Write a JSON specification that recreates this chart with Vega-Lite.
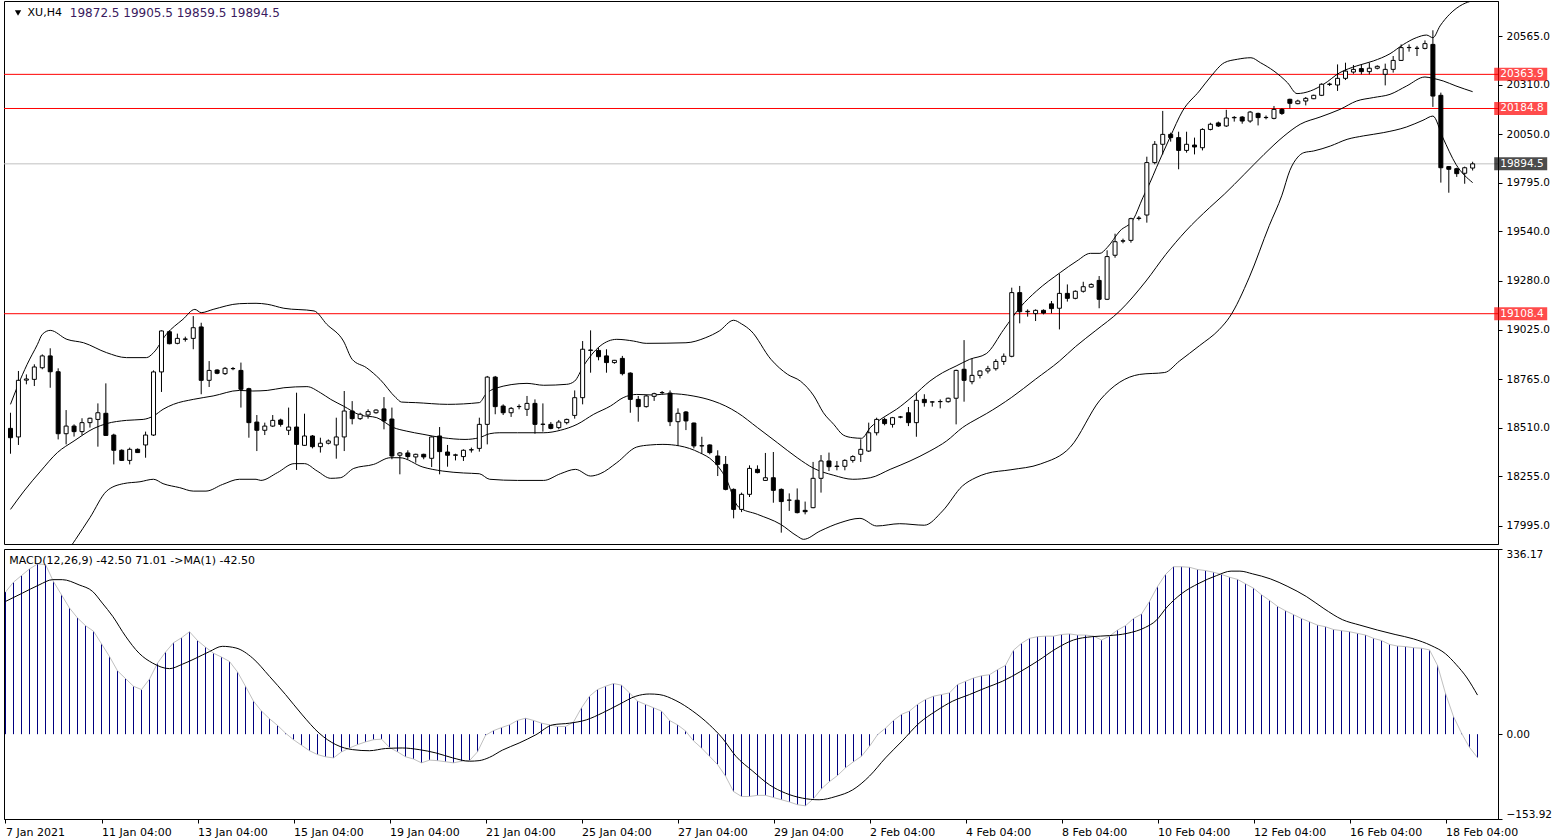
{
"$schema": "https://vega.github.io/schema/vega-lite/v6.json",
"background": "white",
"padding": {"left": 2, "top": 0, "right": 0, "bottom": 0},
"spacing": 3,
"config": {
  "view": {"stroke": "#000000", "strokeWidth": 1},
  "font": "DejaVu Sans",
  "axis": {"labelFont": "DejaVu Sans", "labelColor": "#000000", "tickColor": "#000000", "domainColor": "#000000", "grid": false, "domainWidth": 1, "tickWidth": 1}
},
"datasets": {
  "levels": [
    {"p": 20363.9, "kind": "level"},
    {"p": 20184.8, "kind": "level"},
    {"p": 19108.4, "kind": "level"},
    {"p": 19894.5, "kind": "price"}
  ],
  "bars": [
{"i":0,"o":18507,"h":18589,"l":18374,"c":18458,"m":258},
{"i":1,"o":18462,"h":18808,"l":18420,"c":18759,"m":276},
{"i":2,"o":18760,"h":18790,"l":18738,"c":18766,"m":288},
{"i":3,"o":18764,"h":18843,"l":18729,"c":18829,"m":300},
{"i":4,"o":18825,"h":18895,"l":18817,"c":18887,"m":309},
{"i":5,"o":18887,"h":18927,"l":18720,"c":18804,"m":308},
{"i":6,"o":18804,"h":18822,"l":18449,"c":18479,"m":277},
{"i":7,"o":18479,"h":18603,"l":18423,"c":18519,"m":253},
{"i":8,"o":18519,"h":18528,"l":18464,"c":18490,"m":229},
{"i":9,"o":18490,"h":18560,"l":18472,"c":18537,"m":211},
{"i":10,"o":18537,"h":18563,"l":18511,"c":18560,"m":197},
{"i":11,"o":18554,"h":18638,"l":18411,"c":18589,"m":187},
{"i":12,"o":18586,"h":18743,"l":18467,"c":18470,"m":164},
{"i":13,"o":18472,"h":18479,"l":18318,"c":18392,"m":141},
{"i":14,"o":18392,"h":18397,"l":18336,"c":18339,"m":115},
{"i":15,"o":18339,"h":18406,"l":18318,"c":18397,"m":101},
{"i":16,"o":18397,"h":18402,"l":18380,"c":18380,"m":87},
{"i":17,"o":18420,"h":18490,"l":18353,"c":18472,"m":81},
{"i":18,"o":18472,"h":18811,"l":18467,"c":18803,"m":100},
{"i":19,"o":18803,"h":19021,"l":18698,"c":19018,"m":129},
{"i":20,"o":19014,"h":19021,"l":18948,"c":18951,"m":149},
{"i":21,"o":18953,"h":19004,"l":18948,"c":18979,"m":166},
{"i":22,"o":18974,"h":18988,"l":18962,"c":18976,"m":175},
{"i":23,"o":18979,"h":19096,"l":18922,"c":19035,"m":186},
{"i":24,"o":19039,"h":19061,"l":18686,"c":18759,"m":170},
{"i":25,"o":18759,"h":18860,"l":18724,"c":18811,"m":158},
{"i":26,"o":18813,"h":18817,"l":18791,"c":18796,"m":147},
{"i":27,"o":18794,"h":18829,"l":18787,"c":18822,"m":140},
{"i":28,"o":18820,"h":18829,"l":18812,"c":18821,"m":132},
{"i":29,"o":18811,"h":18852,"l":18616,"c":18712,"m":113},
{"i":30,"o":18715,"h":18720,"l":18458,"c":18537,"m":87},
{"i":31,"o":18540,"h":18577,"l":18388,"c":18497,"m":60},
{"i":32,"o":18497,"h":18537,"l":18472,"c":18519,"m":42},
{"i":33,"o":18519,"h":18577,"l":18514,"c":18549,"m":28},
{"i":34,"o":18551,"h":18558,"l":18516,"c":18528,"m":16},
{"i":35,"o":18497,"h":18616,"l":18472,"c":18514,"m":2},
{"i":36,"o":18514,"h":18694,"l":18289,"c":18423,"m":-10},
{"i":37,"o":18418,"h":18584,"l":18415,"c":18467,"m":-20},
{"i":38,"o":18467,"h":18472,"l":18402,"c":18411,"m":-30},
{"i":39,"o":18411,"h":18458,"l":18380,"c":18429,"m":-37},
{"i":40,"o":18429,"h":18449,"l":18423,"c":18441,"m":-41},
{"i":41,"o":18420,"h":18563,"l":18348,"c":18462,"m":-43},
{"i":42,"o":18462,"h":18703,"l":18388,"c":18598,"m":-32},
{"i":43,"o":18598,"h":18650,"l":18528,"c":18558,"m":-25},
{"i":44,"o":18558,"h":18589,"l":18551,"c":18581,"m":-19},
{"i":45,"o":18577,"h":18607,"l":18558,"c":18595,"m":-14},
{"i":46,"o":18589,"h":18607,"l":18584,"c":18603,"m":-10},
{"i":47,"o":18609,"h":18671,"l":18502,"c":18546,"m":-9},
{"i":48,"o":18556,"h":18616,"l":18345,"c":18362,"m":-24},
{"i":49,"o":18366,"h":18383,"l":18266,"c":18378,"m":-32},
{"i":50,"o":18378,"h":18392,"l":18345,"c":18359,"m":-41},
{"i":51,"o":18357,"h":18374,"l":18327,"c":18371,"m":-45},
{"i":52,"o":18371,"h":18374,"l":18345,"c":18357,"m":-52},
{"i":53,"o":18350,"h":18465,"l":18304,"c":18462,"m":-47},
{"i":54,"o":18467,"h":18514,"l":18266,"c":18385,"m":-48},
{"i":55,"o":18383,"h":18420,"l":18306,"c":18366,"m":-50},
{"i":56,"o":18366,"h":18374,"l":18339,"c":18368,"m":-52},
{"i":57,"o":18359,"h":18397,"l":18336,"c":18392,"m":-49},
{"i":58,"o":18394,"h":18406,"l":18380,"c":18395,"m":-48},
{"i":59,"o":18402,"h":18563,"l":18385,"c":18528,"m":-32},
{"i":60,"o":18528,"h":18782,"l":18423,"c":18776,"m":-2},
{"i":61,"o":18776,"h":18782,"l":18581,"c":18621,"m":6.5},
{"i":62,"o":18624,"h":18633,"l":18577,"c":18589,"m":12},
{"i":63,"o":18589,"h":18619,"l":18567,"c":18612,"m":17},
{"i":64,"o":18621,"h":18633,"l":18607,"c":18622,"m":25},
{"i":65,"o":18607,"h":18677,"l":18572,"c":18638,"m":29},
{"i":66,"o":18638,"h":18659,"l":18479,"c":18528,"m":25},
{"i":67,"o":18528,"h":18638,"l":18490,"c":18529,"m":20},
{"i":68,"o":18528,"h":18540,"l":18502,"c":18507,"m":17},
{"i":69,"o":18511,"h":18551,"l":18502,"c":18540,"m":14},
{"i":70,"o":18537,"h":18558,"l":18528,"c":18554,"m":14},
{"i":71,"o":18575,"h":18706,"l":18558,"c":18668,"m":22},
{"i":72,"o":18668,"h":18965,"l":18633,"c":18922,"m":48},
{"i":73,"o":18916,"h":19021,"l":18799,"c":18918,"m":69},
{"i":74,"o":18916,"h":18930,"l":18864,"c":18883,"m":81},
{"i":75,"o":18887,"h":18922,"l":18799,"c":18852,"m":87},
{"i":76,"o":18852,"h":18866,"l":18846,"c":18864,"m":92},
{"i":77,"o":18874,"h":18887,"l":18785,"c":18794,"m":89},
{"i":78,"o":18797,"h":18801,"l":18589,"c":18659,"m":75},
{"i":79,"o":18659,"h":18677,"l":18542,"c":18621,"m":60},
{"i":80,"o":18621,"h":18682,"l":18616,"c":18677,"m":54},
{"i":81,"o":18675,"h":18694,"l":18651,"c":18689,"m":48},
{"i":82,"o":18694,"h":18703,"l":18685,"c":18695,"m":42},
{"i":83,"o":18692,"h":18706,"l":18519,"c":18542,"m":25},
{"i":84,"o":18542,"h":18612,"l":18415,"c":18586,"m":17},
{"i":85,"o":18593,"h":18598,"l":18498,"c":18546,"m":6},
{"i":86,"o":18535,"h":18537,"l":18402,"c":18415,"m":-12},
{"i":87,"o":18415,"h":18463,"l":18374,"c":18416,"m":-25},
{"i":88,"o":18420,"h":18423,"l":18371,"c":18380,"m":-40},
{"i":89,"o":18362,"h":18392,"l":18257,"c":18318,"m":-55},
{"i":90,"o":18318,"h":18362,"l":18182,"c":18187,"m":-76},
{"i":91,"o":18187,"h":18192,"l":18035,"c":18082,"m":-104},
{"i":92,"o":18082,"h":18170,"l":18068,"c":18161,"m":-113},
{"i":93,"o":18161,"h":18313,"l":18147,"c":18297,"m":-113},
{"i":94,"o":18292,"h":18313,"l":18271,"c":18275,"m":-111},
{"i":95,"o":18234,"h":18378,"l":18231,"c":18248,"m":-111},
{"i":96,"o":18248,"h":18383,"l":18117,"c":18182,"m":-115},
{"i":97,"o":18187,"h":18192,"l":17960,"c":18123,"m":-119},
{"i":98,"o":18130,"h":18166,"l":18074,"c":18131,"m":-123},
{"i":99,"o":18130,"h":18192,"l":18061,"c":18065,"m":-128},
{"i":100,"o":18077,"h":18123,"l":18056,"c":18070,"m":-130},
{"i":101,"o":18091,"h":18331,"l":18088,"c":18245,"m":-117},
{"i":102,"o":18245,"h":18367,"l":18170,"c":18336,"m":-99},
{"i":103,"o":18336,"h":18380,"l":18283,"c":18306,"m":-86},
{"i":104,"o":18307,"h":18336,"l":18287,"c":18309,"m":-75},
{"i":105,"o":18308,"h":18345,"l":18287,"c":18339,"m":-61},
{"i":106,"o":18339,"h":18366,"l":18327,"c":18359,"m":-50},
{"i":107,"o":18371,"h":18450,"l":18331,"c":18397,"m":-40},
{"i":108,"o":18388,"h":18537,"l":18383,"c":18484,"m":-22},
{"i":109,"o":18484,"h":18563,"l":18470,"c":18554,"m":-1},
{"i":110,"o":18554,"h":18563,"l":18523,"c":18532,"m":11},
{"i":111,"o":18528,"h":18567,"l":18511,"c":18563,"m":25},
{"i":112,"o":18566,"h":18572,"l":18560,"c":18567,"m":36},
{"i":113,"o":18589,"h":18619,"l":18519,"c":18537,"m":42},
{"i":114,"o":18537,"h":18694,"l":18463,"c":18654,"m":54},
{"i":115,"o":18659,"h":18686,"l":18621,"c":18642,"m":63},
{"i":116,"o":18645,"h":18650,"l":18621,"c":18646,"m":69},
{"i":117,"o":18647,"h":18659,"l":18612,"c":18648,"m":72},
{"i":118,"o":18647,"h":18668,"l":18642,"c":18665,"m":75},
{"i":119,"o":18665,"h":18815,"l":18528,"c":18811,"m":90},
{"i":120,"o":18817,"h":18970,"l":18647,"c":18759,"m":96},
{"i":121,"o":18752,"h":18874,"l":18738,"c":18785,"m":102},
{"i":122,"o":18785,"h":18811,"l":18769,"c":18808,"m":106},
{"i":123,"o":18808,"h":18835,"l":18795,"c":18820,"m":108},
{"i":124,"o":18820,"h":18870,"l":18810,"c":18858,"m":117},
{"i":125,"o":18858,"h":18900,"l":18840,"c":18885,"m":125},
{"i":126,"o":18885,"h":19245,"l":18880,"c":19219,"m":152.5},
{"i":127,"o":19219,"h":19254,"l":19058,"c":19119,"m":165},
{"i":128,"o":19119,"h":19131,"l":19093,"c":19121,"m":174},
{"i":129,"o":19109,"h":19131,"l":19070,"c":19126,"m":177},
{"i":130,"o":19126,"h":19131,"l":19105,"c":19112,"m":178},
{"i":131,"o":19160,"h":19175,"l":19110,"c":19135,"m":178},
{"i":132,"o":19137,"h":19318,"l":19026,"c":19215,"m":181},
{"i":133,"o":19215,"h":19262,"l":19172,"c":19189,"m":182},
{"i":134,"o":19189,"h":19231,"l":19184,"c":19226,"m":180},
{"i":135,"o":19226,"h":19276,"l":19219,"c":19250,"m":180},
{"i":136,"o":19248,"h":19268,"l":19245,"c":19262,"m":178},
{"i":137,"o":19283,"h":19306,"l":19137,"c":19184,"m":171},
{"i":138,"o":19184,"h":19441,"l":19180,"c":19408,"m":178},
{"i":139,"o":19415,"h":19528,"l":19402,"c":19486,"m":189},
{"i":140,"o":19489,"h":19502,"l":19478,"c":19491,"m":197},
{"i":141,"o":19493,"h":19612,"l":19481,"c":19607,"m":210},
{"i":142,"o":19608,"h":19621,"l":19598,"c":19610,"m":218},
{"i":143,"o":19626,"h":19932,"l":19586,"c":19901,"m":241},
{"i":144,"o":19901,"h":20014,"l":19892,"c":19997,"m":268},
{"i":145,"o":19997,"h":20172,"l":19944,"c":20049,"m":290},
{"i":146,"o":20049,"h":20058,"l":20011,"c":20032,"m":304},
{"i":147,"o":20032,"h":20063,"l":19866,"c":19965,"m":304},
{"i":148,"o":19965,"h":20063,"l":19953,"c":19997,"m":303},
{"i":149,"o":19993,"h":20032,"l":19944,"c":19983,"m":299},
{"i":150,"o":19979,"h":20081,"l":19965,"c":20075,"m":297},
{"i":151,"o":20075,"h":20110,"l":20070,"c":20102,"m":294},
{"i":152,"o":20109,"h":20116,"l":20088,"c":20093,"m":290},
{"i":153,"o":20093,"h":20178,"l":20088,"c":20135,"m":285},
{"i":154,"o":20136,"h":20145,"l":20116,"c":20138,"m":281},
{"i":155,"o":20140,"h":20145,"l":20105,"c":20119,"m":273},
{"i":156,"o":20119,"h":20172,"l":20110,"c":20166,"m":265},
{"i":157,"o":20159,"h":20163,"l":20096,"c":20137,"m":253},
{"i":158,"o":20137,"h":20148,"l":20128,"c":20138,"m":243},
{"i":159,"o":20133,"h":20198,"l":20128,"c":20180,"m":232},
{"i":160,"o":20180,"h":20186,"l":20151,"c":20159,"m":224},
{"i":161,"o":20233,"h":20236,"l":20186,"c":20212,"m":217},
{"i":162,"o":20210,"h":20231,"l":20207,"c":20224,"m":210},
{"i":163,"o":20224,"h":20245,"l":20201,"c":20238,"m":204},
{"i":164,"o":20236,"h":20257,"l":20234,"c":20254,"m":198},
{"i":165,"o":20254,"h":20317,"l":20250,"c":20312,"m":195},
{"i":166,"o":20311,"h":20320,"l":20303,"c":20313,"m":190},
{"i":167,"o":20308,"h":20416,"l":20277,"c":20343,"m":188},
{"i":168,"o":20343,"h":20425,"l":20334,"c":20381,"m":186},
{"i":169,"o":20376,"h":20413,"l":20367,"c":20390,"m":183},
{"i":170,"o":20394,"h":20416,"l":20364,"c":20378,"m":180},
{"i":171,"o":20378,"h":20425,"l":20364,"c":20396,"m":174},
{"i":172,"o":20396,"h":20411,"l":20390,"c":20406,"m":170},
{"i":173,"o":20364,"h":20420,"l":20306,"c":20390,"m":163},
{"i":174,"o":20390,"h":20460,"l":20373,"c":20437,"m":160},
{"i":175,"o":20437,"h":20521,"l":20434,"c":20504,"m":159},
{"i":176,"o":20504,"h":20521,"l":20483,"c":20505,"m":157},
{"i":177,"o":20500,"h":20513,"l":20460,"c":20501,"m":156},
{"i":178,"o":20500,"h":20542,"l":20495,"c":20525,"m":153},
{"i":179,"o":20521,"h":20595,"l":20193,"c":20250,"m":125},
{"i":180,"o":20254,"h":20268,"l":19796,"c":19874,"m":74},
{"i":181,"o":19880,"h":19883,"l":19743,"c":19866,"m":32},
{"i":182,"o":19869,"h":19874,"l":19826,"c":19843,"m":2},
{"i":183,"o":19845,"h":19880,"l":19790,"c":19874,"m":-24},
{"i":184,"o":19872.5,"h":19905.5,"l":19859.5,"c":19894.5,"m":-42.5}
  ],
  "bands": [
{"b":"u","i":0,"v":18633},{"b":"u","i":0.9,"v":18729},{"b":"u","i":2.1,"v":18843},{"b":"u","i":3.4,"v":18948},{"b":"u","i":4,"v":19000},{"b":"u","i":5,"v":19021},{"b":"u","i":7.1,"v":18974},{"b":"u","i":9.2,"v":18956},{"b":"u","i":12.1,"v":18904},{"b":"u","i":14.6,"v":18878},{"b":"u","i":17.1,"v":18878},{"b":"u","i":18,"v":18904},{"b":"u","i":19.6,"v":19000},{"b":"u","i":21.7,"v":19079},{"b":"u","i":23.2,"v":19131},{"b":"u","i":24,"v":19114},{"b":"u","i":25.5,"v":19131},{"b":"u","i":28.8,"v":19161},{"b":"u","i":30.9,"v":19163},{"b":"u","i":32.3,"v":19158},{"b":"u","i":34.4,"v":19137},{"b":"u","i":38.2,"v":19123},{"b":"u","i":39.8,"v":19053},{"b":"u","i":41.9,"v":18965},{"b":"u","i":43,"v":18869},{"b":"u","i":44.8,"v":18825},{"b":"u","i":46.5,"v":18764},{"b":"u","i":48.5,"v":18668},{"b":"u","i":49.2,"v":18645},{"b":"u","i":51,"v":18642},{"b":"u","i":55,"v":18633},{"b":"u","i":59,"v":18642},{"b":"u","i":59.8,"v":18685},{"b":"u","i":61,"v":18717},{"b":"u","i":65,"v":18743},{"b":"u","i":67.1,"v":18733},{"b":"u","i":70,"v":18738},{"b":"u","i":71,"v":18755},{"b":"u","i":72.1,"v":18834},{"b":"u","i":74.2,"v":18939},{"b":"u","i":76.3,"v":18974},{"b":"u","i":78.4,"v":18965},{"b":"u","i":80,"v":18953},{"b":"u","i":85,"v":18956},{"b":"u","i":87.5,"v":18983},{"b":"u","i":89.2,"v":19018},{"b":"u","i":91,"v":19074},{"b":"u","i":92,"v":19055},{"b":"u","i":93.2,"v":19018},{"b":"u","i":95.7,"v":18869},{"b":"u","i":97.8,"v":18790},{"b":"u","i":99.4,"v":18755},{"b":"u","i":101.1,"v":18677},{"b":"u","i":102.3,"v":18589},{"b":"u","i":103.6,"v":18528},{"b":"u","i":104.8,"v":18472},{"b":"u","i":106,"v":18458},{"b":"u","i":107.1,"v":18455},{"b":"u","i":108.2,"v":18511},{"b":"u","i":109.8,"v":18563},{"b":"u","i":111.5,"v":18607},{"b":"u","i":113.6,"v":18677},{"b":"u","i":115.7,"v":18755},{"b":"u","i":117.3,"v":18799},{"b":"u","i":119,"v":18834},{"b":"u","i":120.7,"v":18869},{"b":"u","i":122.8,"v":18899},{"b":"u","i":125,"v":19026},{"b":"u","i":127.1,"v":19144},{"b":"u","i":129.1,"v":19227},{"b":"u","i":132.1,"v":19324},{"b":"u","i":134.2,"v":19385},{"b":"u","i":135.9,"v":19425},{"b":"u","i":137.1,"v":19425},{"b":"u","i":138,"v":19455},{"b":"u","i":139.6,"v":19542},{"b":"u","i":141.3,"v":19603},{"b":"u","i":142.5,"v":19717},{"b":"u","i":143.4,"v":19796},{"b":"u","i":144.2,"v":19874},{"b":"u","i":145.9,"v":20032},{"b":"u","i":147.5,"v":20172},{"b":"u","i":149.6,"v":20276},{"b":"u","i":151,"v":20350},{"b":"u","i":152.75,"v":20425},{"b":"u","i":154.4,"v":20443},{"b":"u","i":156.1,"v":20451},{"b":"u","i":157.3,"v":20425},{"b":"u","i":159,"v":20381},{"b":"u","i":160.7,"v":20320},{"b":"u","i":161.9,"v":20263},{"b":"u","i":163.6,"v":20277},{"b":"u","i":165.25,"v":20312},{"b":"u","i":167.3,"v":20373},{"b":"u","i":169.4,"v":20408},{"b":"u","i":171.5,"v":20434},{"b":"u","i":173.6,"v":20472},{"b":"u","i":175.3,"v":20521},{"b":"u","i":176.9,"v":20556},{"b":"u","i":178.2,"v":20570},{"b":"u","i":179,"v":20556},{"b":"u","i":179.9,"v":20618},{"b":"u","i":181.1,"v":20679},{"b":"u","i":182.75,"v":20731},{"b":"u","i":184,"v":20750},
{"b":"m","i":0,"v":18082},{"b":"m","i":1.7,"v":18178},{"b":"m","i":3.8,"v":18283},{"b":"m","i":5.9,"v":18380},{"b":"m","i":8,"v":18441},{"b":"m","i":10.5,"v":18507},{"b":"m","i":12.1,"v":18532},{"b":"m","i":14.6,"v":18549},{"b":"m","i":16.7,"v":18554},{"b":"m","i":18,"v":18572},{"b":"m","i":19.2,"v":18607},{"b":"m","i":20.5,"v":18633},{"b":"m","i":23,"v":18659},{"b":"m","i":25.5,"v":18677},{"b":"m","i":28.8,"v":18706},{"b":"m","i":30.5,"v":18703},{"b":"m","i":32.3,"v":18706},{"b":"m","i":34.4,"v":18720},{"b":"m","i":37.3,"v":18726},{"b":"m","i":39,"v":18694},{"b":"m","i":40.3,"v":18659},{"b":"m","i":41.9,"v":18624},{"b":"m","i":44,"v":18577},{"b":"m","i":46.1,"v":18563},{"b":"m","i":48.2,"v":18511},{"b":"m","i":49.8,"v":18493},{"b":"m","i":51.9,"v":18476},{"b":"m","i":54.4,"v":18458},{"b":"m","i":57.2,"v":18449},{"b":"m","i":59,"v":18458},{"b":"m","i":60.3,"v":18479},{"b":"m","i":61.5,"v":18484},{"b":"m","i":63.8,"v":18484},{"b":"m","i":67.1,"v":18484},{"b":"m","i":69.2,"v":18497},{"b":"m","i":71.3,"v":18528},{"b":"m","i":73.4,"v":18581},{"b":"m","i":75.5,"v":18624},{"b":"m","i":77.1,"v":18668},{"b":"m","i":78.8,"v":18685},{"b":"m","i":80.9,"v":18682},{"b":"m","i":83,"v":18689},{"b":"m","i":85.9,"v":18677},{"b":"m","i":88.4,"v":18651},{"b":"m","i":90,"v":18624},{"b":"m","i":91.5,"v":18589},{"b":"m","i":94,"v":18511},{"b":"m","i":96.5,"v":18432},{"b":"m","i":99,"v":18353},{"b":"m","i":101.1,"v":18297},{"b":"m","i":103.6,"v":18261},{"b":"m","i":106,"v":18240},{"b":"m","i":108.2,"v":18248},{"b":"m","i":110.7,"v":18292},{"b":"m","i":113.2,"v":18336},{"b":"m","i":115.7,"v":18388},{"b":"m","i":117.8,"v":18441},{"b":"m","i":119.8,"v":18511},{"b":"m","i":121.9,"v":18563},{"b":"m","i":122.8,"v":18584},{"b":"m","i":126,"v":18670},{"b":"m","i":129,"v":18765},{"b":"m","i":132,"v":18860},{"b":"m","i":134,"v":18935},{"b":"m","i":136.5,"v":19018},{"b":"m","i":139.6,"v":19123},{"b":"m","i":142.9,"v":19280},{"b":"m","i":145.4,"v":19420},{"b":"m","i":147.9,"v":19542},{"b":"m","i":150.9,"v":19665},{"b":"m","i":152.75,"v":19735},{"b":"m","i":155.25,"v":19839},{"b":"m","i":157.75,"v":19944},{"b":"m","i":160.25,"v":20040},{"b":"m","i":162.3,"v":20102},{"b":"m","i":164.8,"v":20140},{"b":"m","i":167.3,"v":20180},{"b":"m","i":169.4,"v":20224},{"b":"m","i":171.5,"v":20242},{"b":"m","i":173.6,"v":20259},{"b":"m","i":175.7,"v":20303},{"b":"m","i":178,"v":20350},{"b":"m","i":179,"v":20343},{"b":"m","i":180.3,"v":20329},{"b":"m","i":181.9,"v":20303},{"b":"m","i":184,"v":20273},
{"b":"l","i":0,"v":17531},{"b":"l","i":2,"v":17543},{"b":"l","i":4,"v":17586},{"b":"l","i":6,"v":17768},{"b":"l","i":7,"v":17849},{"b":"l","i":8.2,"v":17925},{"b":"l","i":10,"v":18039},{"b":"l","i":12.1,"v":18178},{"b":"l","i":14.2,"v":18217},{"b":"l","i":16.3,"v":18227},{"b":"l","i":18,"v":18240},{"b":"l","i":19.2,"v":18217},{"b":"l","i":21.3,"v":18196},{"b":"l","i":23,"v":18178},{"b":"l","i":24.6,"v":18178},{"b":"l","i":26.7,"v":18213},{"b":"l","i":28.8,"v":18240},{"b":"l","i":30.9,"v":18240},{"b":"l","i":31.5,"v":18234},{"b":"l","i":33.6,"v":18275},{"b":"l","i":35.7,"v":18322},{"b":"l","i":37,"v":18322},{"b":"l","i":38.6,"v":18283},{"b":"l","i":40.3,"v":18245},{"b":"l","i":41.5,"v":18248},{"b":"l","i":43.2,"v":18297},{"b":"l","i":45.7,"v":18318},{"b":"l","i":47.8,"v":18353},{"b":"l","i":49,"v":18353},{"b":"l","i":51.9,"v":18304},{"b":"l","i":54.4,"v":18283},{"b":"l","i":57,"v":18273},{"b":"l","i":59,"v":18269},{"b":"l","i":60.3,"v":18240},{"b":"l","i":63.8,"v":18234},{"b":"l","i":67.1,"v":18234},{"b":"l","i":69.2,"v":18269},{"b":"l","i":71.1,"v":18292},{"b":"l","i":73,"v":18257},{"b":"l","i":74.2,"v":18269},{"b":"l","i":76.3,"v":18327},{"b":"l","i":78.8,"v":18409},{"b":"l","i":80.5,"v":18420},{"b":"l","i":82.1,"v":18423},{"b":"l","i":84.2,"v":18415},{"b":"l","i":86.7,"v":18380},{"b":"l","i":88.4,"v":18336},{"b":"l","i":90,"v":18248},{"b":"l","i":91.6,"v":18095},{"b":"l","i":94,"v":18056},{"b":"l","i":96.9,"v":18004},{"b":"l","i":99,"v":17942},{"b":"l","i":99.8,"v":17925},{"b":"l","i":101.9,"v":17969},{"b":"l","i":104.4,"v":18012},{"b":"l","i":106.9,"v":18035},{"b":"l","i":109,"v":17995},{"b":"l","i":111.9,"v":18007},{"b":"l","i":115,"v":17999},{"b":"l","i":117.3,"v":18074},{"b":"l","i":119.8,"v":18205},{"b":"l","i":121.5,"v":18249},{"b":"l","i":122.8,"v":18270},{"b":"l","i":125.9,"v":18290},{"b":"l","i":129.6,"v":18320},{"b":"l","i":133.4,"v":18410},{"b":"l","i":137.1,"v":18655},{"b":"l","i":142.1,"v":18790},{"b":"l","i":145.25,"v":18800},{"b":"l","i":147.1,"v":18860},{"b":"l","i":149.6,"v":18940},{"b":"l","i":152.1,"v":19025},{"b":"l","i":153.4,"v":19090},{"b":"l","i":155.9,"v":19300},{"b":"l","i":158.4,"v":19570},{"b":"l","i":160,"v":19730},{"b":"l","i":161,"v":19860},{"b":"l","i":162,"v":19930},{"b":"l","i":162.75,"v":19953},{"b":"l","i":164,"v":19962},{"b":"l","i":166.1,"v":19988},{"b":"l","i":168.2,"v":20023},{"b":"l","i":170.25,"v":20041},{"b":"l","i":172.75,"v":20058},{"b":"l","i":175.7,"v":20088},{"b":"l","i":177.75,"v":20123},{"b":"l","i":179,"v":20145},{"b":"l","i":180.25,"v":20032},{"b":"l","i":181.9,"v":19892},{"b":"l","i":184,"v":19796}
  ],
  "sig": [
{"i":0,"s":241},{"i":2.1,"s":256},{"i":4.2,"s":271},{"i":5.9,"s":280.5},{"i":7.1,"s":280.5},{"i":9.2,"s":271},{"i":10.9,"s":259},{"i":12.1,"s":238},{"i":13.4,"s":214},{"i":15,"s":178},{"i":16.7,"s":147},{"i":18.4,"s":129},{"i":20.5,"s":119},{"i":22.1,"s":127},{"i":23.8,"s":138},{"i":25.5,"s":150},{"i":27.1,"s":159.5},{"i":28.8,"s":156.5},{"i":30.9,"s":138},{"i":33,"s":105},{"i":35,"s":72},{"i":37.1,"s":35},{"i":39.2,"s":2},{"i":41.3,"s":-19},{"i":43.4,"s":-28},{"i":45.5,"s":-30},{"i":47.5,"s":-26},{"i":49.6,"s":-25},{"i":51.7,"s":-28},{"i":53.8,"s":-34},{"i":55.9,"s":-43},{"i":58,"s":-49},{"i":59.2,"s":-48},{"i":60.5,"s":-42},{"i":62.1,"s":-29},{"i":64.2,"s":-16},{"i":66.3,"s":-1},{"i":68.4,"s":17},{"i":70.5,"s":20},{"i":72.6,"s":26},{"i":74.6,"s":38.5},{"i":76.7,"s":54},{"i":78.8,"s":69},{"i":80.5,"s":73},{"i":81.7,"s":72},{"i":83.8,"s":61},{"i":85.9,"s":42},{"i":88,"s":17},{"i":89.6,"s":-7},{"i":91.3,"s":-40},{"i":93.4,"s":-67},{"i":95.5,"s":-92},{"i":97.5,"s":-107},{"i":99.6,"s":-116},{"i":101.7,"s":-119},{"i":103.8,"s":-113},{"i":105.9,"s":-101},{"i":108,"s":-76},{"i":110,"s":-43},{"i":112.1,"s":-12},{"i":114.2,"s":20},{"i":116.3,"s":42},{"i":118.4,"s":60},{"i":120.5,"s":72},{"i":122.5,"s":84},{"i":124.6,"s":96},{"i":126.9,"s":114},{"i":129.1,"s":133.5},{"i":131.3,"s":155},{"i":133.5,"s":171},{"i":135.8,"s":177},{"i":138,"s":179},{"i":140.2,"s":183},{"i":142.5,"s":194},{"i":143.8,"s":206},{"i":145.2,"s":231},{"i":147,"s":255},{"i":149.2,"s":274},{"i":151.4,"s":288},{"i":153.2,"s":296},{"i":154.3,"s":296},{"i":155.9,"s":291},{"i":158.1,"s":282},{"i":160.3,"s":268},{"i":162.6,"s":250},{"i":164.8,"s":228},{"i":167.1,"s":208},{"i":169.3,"s":198},{"i":171.5,"s":189},{"i":173.7,"s":181},{"i":176,"s":173},{"i":178.2,"s":161},{"i":180,"s":146},{"i":181.3,"s":127},{"i":182.7,"s":102},{"i":184,"s":71.01}
  ]
},
"vconcat": [
  {
    "width": 1494,
    "height": 543,
    "layer": [
      {
        "data": {"name": "levels"},
        "mark": {"type": "rule", "strokeWidth": 1},
        "encoding": {
          "y": {"field": "p", "type": "quantitative", "scale": {"domain": [17900.5, 20748.6], "nice": false, "zero": false},
                "axis": {"orient": "right", "values": [17995, 18255, 18510, 18765, 19025, 19280, 19540, 19795, 20050, 20310, 20565], "format": ".1f", "title": null, "labelFontSize": 10.5, "tickSize": 4, "labelPadding": 4, "labelOverlap": false}},
          "color": {"condition": {"test": "datum.kind === 'price'", "value": "#c0c0c0"}, "value": "#ff0000"}
        }
      },
      {
        "data": {"name": "bands"},
        "mark": {"type": "line", "color": "#000000", "strokeWidth": 1, "clip": true, "interpolate": "monotone"},
        "encoding": {
          "x": {"field": "i", "type": "quantitative", "scale": {"domain": [-0.1875, 186.5625], "nice": false, "zero": false}, "axis": null},
          "y": {"field": "v", "type": "quantitative", "scale": {"domain": [17900.5, 20748.6], "nice": false, "zero": false}, "title": null},
          "detail": {"field": "b", "type": "nominal"}
        }
      },
      {
        "data": {"name": "bars"},
        "mark": {"type": "rule", "color": "#000000", "strokeWidth": 1, "clip": true},
        "encoding": {
          "x": {"field": "i", "type": "quantitative", "scale": {"domain": [-0.1875, 186.5625], "nice": false, "zero": false}, "axis": null},
          "y": {"field": "l", "type": "quantitative", "scale": {"domain": [17900.5, 20748.6], "nice": false, "zero": false}, "title": null},
          "y2": {"field": "h"}
        }
      },
      {
        "data": {"name": "bars"},
        "mark": {"type": "bar", "size": 4, "stroke": "#000000", "strokeWidth": 1, "clip": true},
        "encoding": {
          "x": {"field": "i", "type": "quantitative", "scale": {"domain": [-0.1875, 186.5625], "nice": false, "zero": false}, "axis": null},
          "y": {"field": "o", "type": "quantitative", "scale": {"domain": [17900.5, 20748.6], "nice": false, "zero": false}, "title": null},
          "y2": {"field": "c"},
          "fill": {"condition": {"test": "datum.c >= datum.o", "value": "#ffffff"}, "value": "#000000"}
        }
      },
      {
        "data": {"name": "levels"},
        "mark": {"type": "tick", "orient": "horizontal", "size": 53, "thickness": 13, "clip": false},
        "encoding": {
          "x": {"datum": 190.05, "type": "quantitative", "scale": {"domain": [-0.1875, 186.5625], "nice": false, "zero": false}, "axis": null},
          "y": {"field": "p", "type": "quantitative", "scale": {"domain": [17900.5, 20748.6], "nice": false, "zero": false}, "title": null},
          "color": {"condition": {"test": "datum.kind === 'price'", "value": "#000000"}, "value": "#ff0000"}
        }
      },
      {
        "data": {"name": "levels"},
        "mark": {"type": "text", "align": "left", "baseline": "middle", "color": "#ffffff", "fontSize": 10.5, "font": "DejaVu Sans", "clip": false},
        "encoding": {
          "x": {"datum": 187.47, "type": "quantitative", "scale": {"domain": [-0.1875, 186.5625], "nice": false, "zero": false}, "axis": null},
          "y": {"field": "p", "type": "quantitative", "scale": {"domain": [17900.5, 20748.6], "nice": false, "zero": false}, "title": null},
          "text": {"field": "p", "type": "quantitative", "format": ".1f"}
        }
      },
      {
        "data": {"values": [{}]},
        "mark": {"type": "point", "shape": "triangle-down", "filled": true, "color": "#000000", "size": 40, "opacity": 1},
        "encoding": {
          "x": {"datum": 0.95, "type": "quantitative", "scale": {"domain": [-0.1875, 186.5625], "nice": false, "zero": false}, "axis": null},
          "y": {"datum": 20686, "type": "quantitative", "scale": {"domain": [17900.5, 20748.6], "nice": false, "zero": false}, "title": null}
        }
      },
      {
        "data": {"values": [{}]},
        "mark": {"type": "text", "text": "XU,H4", "align": "left", "baseline": "middle", "color": "#000000", "fontSize": 11, "font": "DejaVu Sans"},
        "encoding": {
          "x": {"datum": 2.15, "type": "quantitative", "scale": {"domain": [-0.1875, 186.5625], "nice": false, "zero": false}, "axis": null},
          "y": {"datum": 20684, "type": "quantitative", "scale": {"domain": [17900.5, 20748.6], "nice": false, "zero": false}, "title": null}
        }
      },
      {
        "data": {"values": [{}]},
        "mark": {"type": "text", "text": "19872.5 19905.5 19859.5 19894.5", "align": "left", "baseline": "middle", "color": "#3a1a5e", "fontSize": 12, "font": "DejaVu Sans"},
        "encoding": {
          "x": {"datum": 7.47, "type": "quantitative", "scale": {"domain": [-0.1875, 186.5625], "nice": false, "zero": false}, "axis": null},
          "y": {"datum": 20684, "type": "quantitative", "scale": {"domain": [17900.5, 20748.6], "nice": false, "zero": false}, "title": null}
        }
      }
    ]
  },
  {
    "width": 1494,
    "height": 270,
    "layer": [
      {
        "data": {"name": "bars"},
        "mark": {"type": "rule", "color": "#000080", "strokeWidth": 1},
        "encoding": {
          "x": {"field": "i", "type": "quantitative", "scale": {"domain": [-0.1875, 186.5625], "nice": false, "zero": false},
                "axis": {"orient": "bottom", "values": [0, 12, 24, 36, 48, 60, 72, 84, 96, 108, 120, 132, 144, 156, 168, 180], "labelExpr": "['7 Jan 2021','11 Jan 04:00','13 Jan 04:00','15 Jan 04:00','19 Jan 04:00','21 Jan 04:00','25 Jan 04:00','27 Jan 04:00','29 Jan 04:00','2 Feb 04:00','4 Feb 04:00','8 Feb 04:00','10 Feb 04:00','12 Feb 04:00','16 Feb 04:00','18 Feb 04:00'][round(datum.value/12)]", "labelAlign": "left", "labelBaseline": "top", "tickSize": 4, "labelPadding": 3, "labelOverlap": false, "labelBound": false, "labelFlush": false, "labelFontSize": 11, "title": null}},
          "y": {"field": "m", "type": "quantitative", "scale": {"domain": [-153.92, 336.17], "nice": false, "zero": false},
                "axis": {"orient": "right", "values": [-153.92, 0, 336.17], "format": ".2f", "title": null, "labelFlush": true, "labelOverlap": false, "tickSize": 4, "labelPadding": 4, "labelFontSize": 10.5}},
          "y2": {"datum": 0}
        }
      },
      {
        "data": {"name": "bars"},
        "mark": {"type": "line", "color": "#c0c0c0", "strokeWidth": 1},
        "encoding": {
          "x": {"field": "i", "type": "quantitative", "scale": {"domain": [-0.1875, 186.5625], "nice": false, "zero": false}, "title": null},
          "y": {"field": "m", "type": "quantitative", "scale": {"domain": [-153.92, 336.17], "nice": false, "zero": false}, "title": null}
        }
      },
      {
        "data": {"name": "sig"},
        "mark": {"type": "line", "color": "#000000", "strokeWidth": 1, "interpolate": "monotone"},
        "encoding": {
          "x": {"field": "i", "type": "quantitative", "scale": {"domain": [-0.1875, 186.5625], "nice": false, "zero": false}, "title": null},
          "y": {"field": "s", "type": "quantitative", "scale": {"domain": [-153.92, 336.17], "nice": false, "zero": false}, "title": null}
        }
      },
      {
        "data": {"values": [{}]},
        "mark": {"type": "text", "text": "MACD(12,26,9) -42.50 71.01  ->MA(1) -42.50", "align": "left", "baseline": "middle", "color": "#000000", "fontSize": 11, "font": "DejaVu Sans"},
        "encoding": {
          "x": {"datum": 0.47, "type": "quantitative", "scale": {"domain": [-0.1875, 186.5625], "nice": false, "zero": false}, "title": null},
          "y": {"datum": 315, "type": "quantitative", "scale": {"domain": [-153.92, 336.17], "nice": false, "zero": false}, "title": null}
        }
      }
    ]
  }
]
}
